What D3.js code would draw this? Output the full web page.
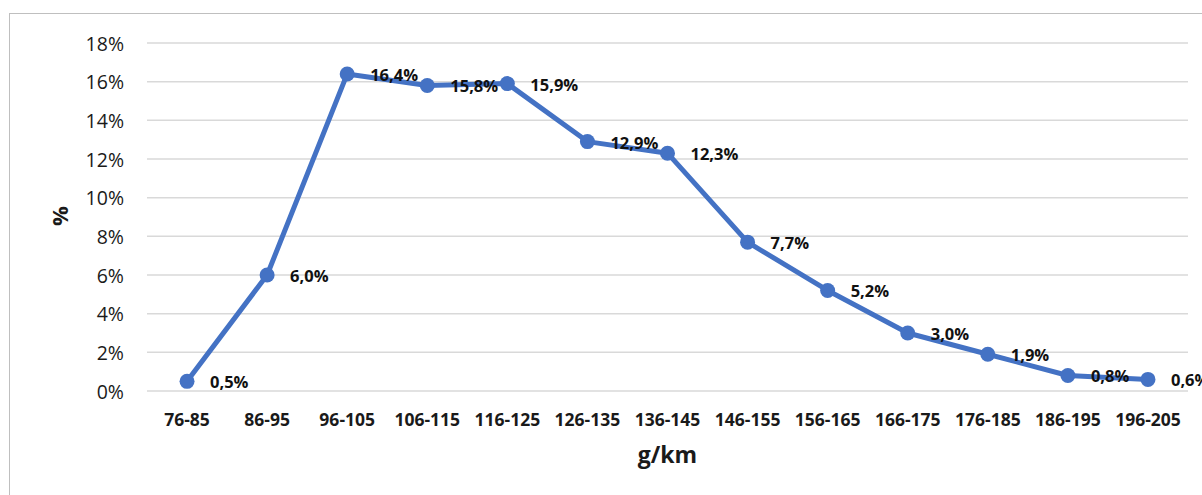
<!DOCTYPE html>
<html>
<head>
<meta charset="utf-8">
<script src="https://cdn.jsdelivr.net/npm/d3@7"></script>
<style>
  html, body { margin: 0; padding: 0; background: #fff; }
  svg { display: block; }
</style>
</head>
<body>
<svg id="chart" width="1202" height="495"></svg>
<script>
// Emission classes (g/km) and share of vehicles in each class (%)
const categories = ["76-85", "86-95", "96-105", "106-115", "116-125", "126-135", "136-145",
                    "146-155", "156-165", "166-175", "176-185", "186-195", "196-205"];
const shares = [0.5, 6.0, 16.4, 15.8, 15.9, 12.9, 12.3, 7.7, 5.2, 3.0, 1.9, 0.8, 0.6];
const yTicks = [0, 2, 4, 6, 8, 10, 12, 14, 16, 18];

const svg = d3.select("#chart");
const W = 1202, H = 495;
const font = "'Open Sans', 'Noto Sans', sans-serif";

// Chart area frame
svg.append("rect")
  .attr("x", 9.5).attr("y", 13.5)
  .attr("width", W + 10).attr("height", H)
  .attr("fill", "#fff").attr("stroke", "#bfbfbf").attr("stroke-width", 1);

const plot = { left: 147, right: 1188, top: 43, bottom: 391 };

const x = d3.scaleBand().domain(categories).range([plot.left, plot.right]);
const y = d3.scaleLinear().domain([0, 18]).range([plot.bottom, plot.top]);

// Horizontal gridlines
svg.append("g")
  .selectAll("line")
  .data(yTicks)
  .join("line")
  .attr("x1", plot.left).attr("x2", plot.right)
  .attr("y1", d => y(d)).attr("y2", d => y(d))
  .attr("stroke", "#d9d9d9").attr("stroke-width", 1.5);

// Y axis labels
const yAxis = svg.append("g")
  .attr("transform", `translate(${plot.left - 23},0)`)
  .call(d3.axisLeft(y).tickValues(yTicks).tickFormat(d => d + "%").tickSize(0).tickPadding(0));
yAxis.select(".domain").remove();
yAxis.selectAll("text")
  .attr("font-family", font).attr("font-size", 19.5).attr("fill", "#1a1a1a")
  .attr("dy", "0.36em");

// X axis labels
const xAxis = svg.append("g")
  .attr("transform", `translate(0,${plot.bottom + 35})`)
  .call(d3.axisBottom(x).tickSize(0).tickPadding(0));
xAxis.select(".domain").remove();
xAxis.selectAll("text")
  .attr("font-family", font).attr("font-size", 17.5).attr("font-weight", "bold")
  .attr("dy", 0)
  .attr("fill", "#1a1a1a");

// Axis titles
svg.append("text")
  .attr("x", (plot.left + plot.right) / 2).attr("y", 463)
  .attr("text-anchor", "middle")
  .attr("font-family", font).attr("font-size", 23).attr("font-weight", "bold")
  .attr("fill", "#1a1a1a")
  .text("g/km");

svg.append("text")
  .attr("transform", "translate(68,216) rotate(-90)")
  .attr("text-anchor", "middle")
  .attr("font-family", font).attr("font-size", 22).attr("font-weight", "bold")
  .attr("fill", "#1a1a1a")
  .text("%");

// Line series
const cx = d => x(d.cat) + x.bandwidth() / 2;
const data = categories.map((c, i) => ({ cat: c, v: shares[i] }));

svg.append("path")
  .datum(data)
  .attr("fill", "none")
  .attr("stroke", "#4472C4")
  .attr("stroke-width", 5)
  .attr("stroke-linejoin", "round")
  .attr("d", d3.line().x(cx).y(d => y(d.v)));

svg.append("g")
  .selectAll("circle")
  .data(data)
  .join("circle")
  .attr("cx", cx).attr("cy", d => y(d.v))
  .attr("r", 7.5)
  .attr("fill", "#4472C4");

// Data labels to the right of each point
const fmt = v => v.toFixed(1).replace(".", ",") + "%";
svg.append("g")
  .selectAll("text")
  .data(data)
  .join("text")
  .attr("x", d => cx(d) + 23)
  .attr("y", d => y(d.v))
  .attr("dy", "0.42em")
  .attr("font-family", font).attr("font-size", 16.5).attr("font-weight", "bold")
  .attr("fill", "#111")
  .text(d => fmt(d.v));
</script>
</body>
</html>
